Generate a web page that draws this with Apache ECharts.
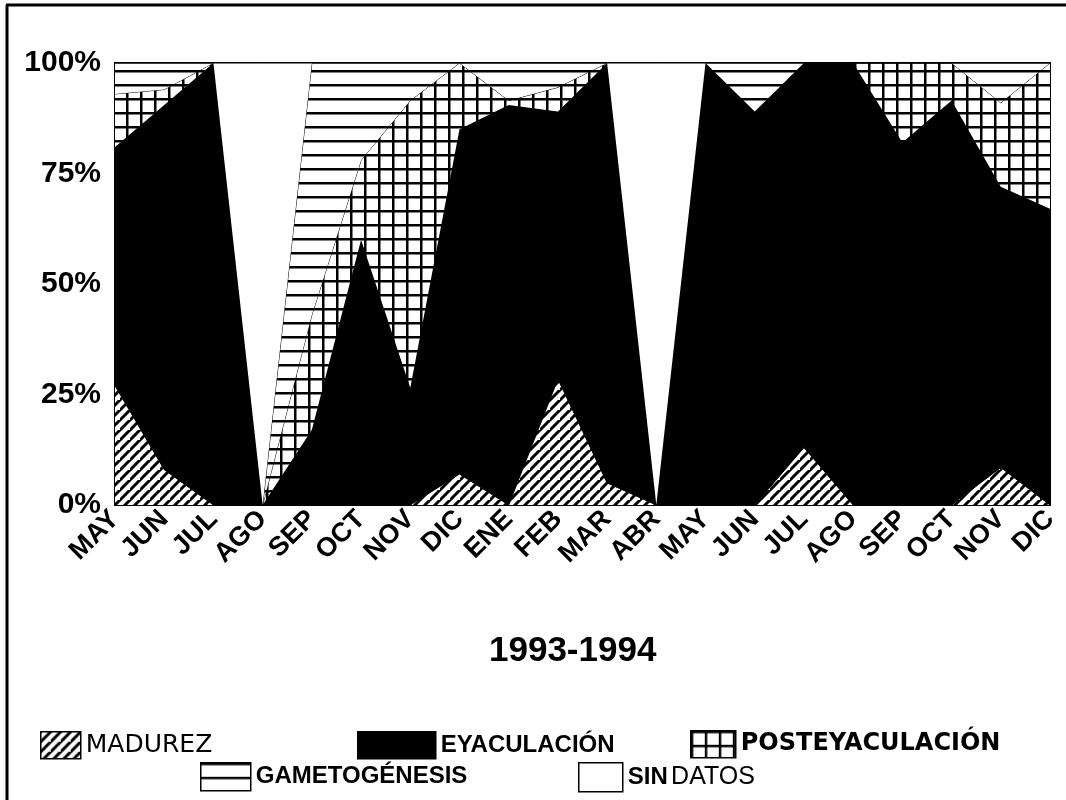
<!DOCTYPE html>
<html>
<head>
<meta charset="utf-8">
<script src="https://cdn.jsdelivr.net/npm/echarts@6/dist/echarts.min.js"></script>
<style>
html,body{margin:0;padding:0;background:#fff;}
#chart{width:1066px;height:800px;}
</style>
</head>
<body>
<div id="chart"></div>
<script>
// ---- data ----
var categories = ['MAY','JUN','JUL','AGO','SEP','OCT','NOV','DIC','ENE','FEB','MAR','ABR','MAY','JUN','JUL','AGO','SEP','OCT','NOV','DIC'];
var madurez      = [27, 8, 0, 0, 0, 0, 0, 7, 0, 28.5, 5, 0, 0, 0, 13, 0, 0, 0, 8.5, 0];
var eyaculacion  = [54, 82.5, 100, 0, 17, 60, 26.5, 78, 90.5, 60.5, 95, 0, 100, 89, 87, 100, 82, 91.5, 63.5, 67];
var posteyac     = [12, 3.5, 0, 0, 26, 18, 65, 15, 1, 5.5, 0, 0, 0, 0, 0, 0, 18, 8.5, 19, 33];
var gametogenesis= [7, 6, 0, 0, 57, 22, 8.5, 0, 8.5, 5.5, 0, 0, 0, 11, 0, 0, 0, 0, 9, 0];
var sinDatos     = [0, 0, 0, 100, 0, 0, 0, 0, 0, 0, 0, 100, 0, 0, 0, 0, 0, 0, 0, 0];
var yTicks = [0, 25, 50, 75, 100];
var seriesNames = ['MADUREZ','EYACULACIÓN','POSTEYACULACIÓN','GAMETOGÉNESIS','SIN DATOS'];
var xTitle = '1993-1994';

// ---- patterns ----
function makeCanvas(w, h, draw) {
  var c = document.createElement('canvas');
  c.width = w; c.height = h;
  var ctx = c.getContext('2d');
  ctx.fillStyle = '#fff'; ctx.fillRect(0, 0, w, h);
  ctx.strokeStyle = '#000'; ctx.fillStyle = '#000';
  draw(ctx, w, h);
  return c;
}
var hatchCanvas = makeCanvas(10, 10, function (ctx, w, h) {
  ctx.lineWidth = 3;
  ctx.beginPath();
  ctx.moveTo(-2, h + 2); ctx.lineTo(w + 2, -2);
  ctx.moveTo(-2 - w, h + 2); ctx.lineTo(2, -2);
  ctx.moveTo(w - 2, 2 * h + 2); ctx.lineTo(2 * w + 2, h - 2);
  ctx.stroke();
});
var gridCanvas = makeCanvas(14, 14, function (ctx, w, h) {
  ctx.fillRect(0, 0, w, 2.5);
  ctx.fillRect(0, 0, 2.5, h);
});
var hlineCanvas = makeCanvas(14, 14, function (ctx, w, h) {
  ctx.fillRect(0, 0, w, 2.5);
});
var patHatch = { image: hatchCanvas, repeat: 'repeat' };
var patGrid  = { image: gridCanvas, repeat: 'repeat' };
var patHline = { image: hlineCanvas, repeat: 'repeat' };
var fills = [patHatch, '#000', patGrid, patHline, '#fff'];
var values = [madurez, eyaculacion, posteyac, gametogenesis, sinDatos];

var series = seriesNames.map(function (n, i) {
  return {
    name: n,
    type: 'line',
    stack: 'total',
    data: values[i],
    symbol: 'none',
    showSymbol: false,
    smooth: false,
    lineStyle: { color: '#000', width: 1 },
    itemStyle: { color: fills[i] },
    areaStyle: { color: fills[i], opacity: 1 },
    emphasis: { disabled: true },
    z: 2 + i
  };
});

function legendItem(name, left, top, w, h, textStyle) {
  var idx = seriesNames.indexOf(name);
  return {
    data: [{ name: name, itemStyle: { color: fills[idx], borderColor: '#000', borderWidth: 1.5 } }],
    left: left, top: top,
    icon: 'rect',
    itemWidth: w, itemHeight: h,
    selectedMode: false,
    padding: 0,
    textStyle: textStyle
  };
}

var chart = echarts.init(document.getElementById('chart'), null, { renderer: 'canvas' });
chart.setOption({
  animation: false,
  backgroundColor: '#fff',
  title: {
    text: xTitle,
    left: 484, top: 629,
    textStyle: { fontFamily: 'Liberation Sans', fontWeight: 'bold', fontSize: 35, color: '#000' }
  },
  grid: {
    left: 115, right: 16, top: 63, bottom: 295,
    show: true, borderColor: '#000', borderWidth: 2, backgroundColor: '#fff',
    containLabel: false
  },
  legend: [
    legendItem('MADUREZ', 40, 731, 40, 27, { fontFamily: 'DejaVu Sans', fontSize: 25, color: '#000' }),
    legendItem('EYACULACIÓN', 357, 731, 78, 27, { fontFamily: 'Liberation Sans', fontWeight: 'bold', fontSize: 24, color: '#000' }),
    legendItem('POSTEYACULACIÓN', 690, 730, 45, 27, { fontFamily: 'DejaVu Sans', fontWeight: 'bold', fontSize: 24, color: '#000' }),
    legendItem('GAMETOGÉNESIS', 200, 762, 50, 28, { fontFamily: 'Liberation Sans', fontWeight: 'bold', fontSize: 24, color: '#000' }),
    {
      data: [{ name: 'SIN DATOS', itemStyle: { color: '#fff', borderColor: '#000', borderWidth: 1.5 } }],
      left: 578, top: 762, icon: 'rect', itemWidth: 44, itemHeight: 29, selectedMode: false, padding: 0,
      formatter: function () { return '{b|SIN} {r|DATOS}'; },
      textStyle: {
        color: '#000',
        rich: {
          b: { fontFamily: 'Liberation Sans', fontWeight: 'bold', fontSize: 24, color: '#000', lineHeight: 28, verticalAlign: 'middle' },
          r: { fontFamily: 'Liberation Sans', fontWeight: 'normal', fontSize: 25, color: '#000', lineHeight: 28, verticalAlign: 'middle' }
        }
      }
    }
  ],
  xAxis: {
    type: 'category',
    data: categories,
    boundaryGap: false,
    axisLine: { show: true, lineStyle: { color: '#000', width: 2 } },
    axisTick: { show: false },
    splitLine: { show: false },
    axisLabel: {
      interval: 0, rotate: 45, margin: 10,
      fontFamily: 'Liberation Sans', fontWeight: 'bold', fontSize: 27, color: '#000'
    }
  },
  yAxis: {
    type: 'value',
    min: yTicks[0], max: yTicks[yTicks.length - 1], interval: 25,
    axisLine: { show: true, lineStyle: { color: '#000', width: 2 } },
    axisTick: { show: false },
    splitLine: { show: false },
    axisLabel: {
      formatter: '{value}%', margin: 14,
      fontFamily: 'Liberation Sans', fontWeight: 'bold', fontSize: 30, color: '#000'
    }
  },
  graphic: [
    { type: 'line', shape: { x1: 7, y1: 5, x2: 7, y2: 800 }, style: { stroke: '#000', lineWidth: 3 }, silent: true },
    { type: 'line', shape: { x1: 6, y1: 5, x2: 1066, y2: 5 }, style: { stroke: '#000', lineWidth: 3 }, silent: true }
  ],
  series: series
});
</script>
</body>
</html>
